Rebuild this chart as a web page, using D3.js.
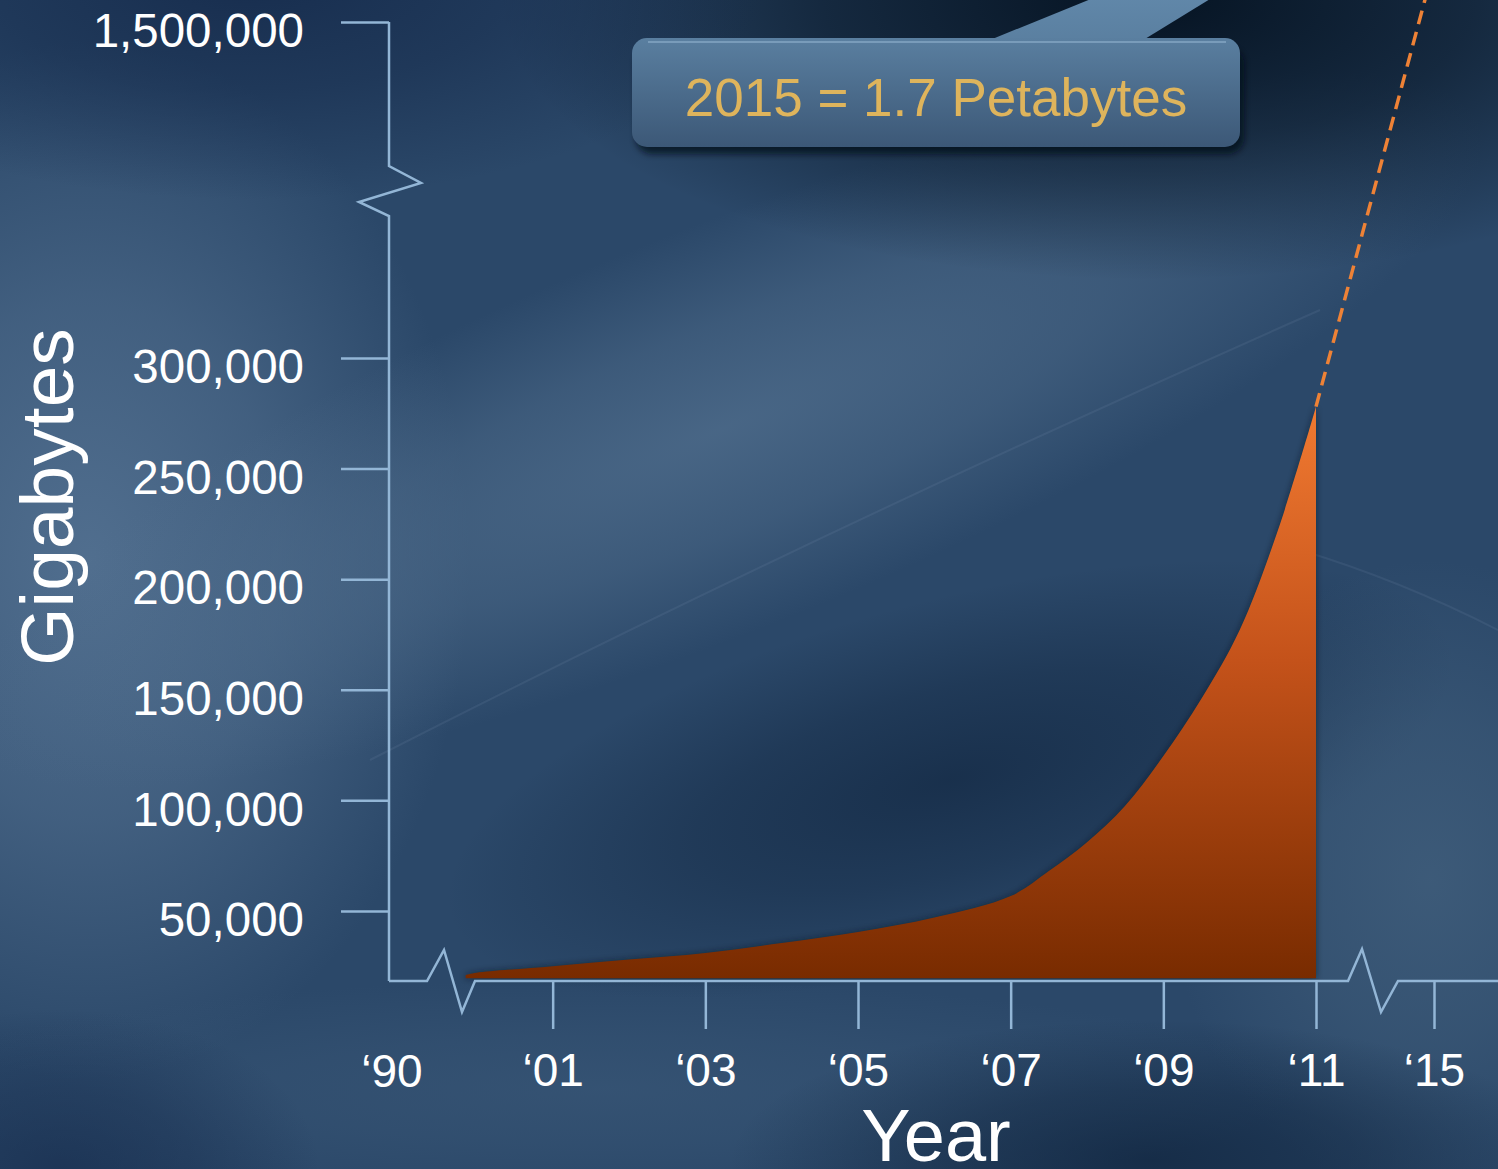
<!DOCTYPE html>
<html>
<head>
<meta charset="utf-8">
<script src="https://cdn.jsdelivr.net/npm/d3@7"></script>
<style>
  html, body { margin: 0; padding: 0; background: #1f3a5a; overflow: hidden; }
  text { font-family: "Liberation Sans", Arial, sans-serif; }
</style>
</head>
<body>
<div id="chart"></div>
<script>
// Data
const years = [1999.86, 2000, 2001, 2002, 2003, 2004, 2005, 2006, 2007, 2007.5, 2008, 2008.5, 2009, 2009.5, 2010, 2010.5, 2011];
const gigabytes = [21000, 22000, 25000, 28000, 31000, 35500, 40500, 47000, 56700, 68000, 81000, 97500, 120000, 146000, 177000, 222000, 278000];

// Projection to 2015 (dashed)
const projYears = [2011, 2015];
const projGigabytes = [278000, 1700000];

const xTickYears = [2001, 2003, 2005, 2007, 2009, 2011, 2015];
const xTickLabels = ["‘01", "‘03", "‘05", "‘07", "‘09", "‘11", "‘15"];
const xStartYear = 1990, xStartLabel = "‘90";
const yTicks = [50000, 100000, 150000, 200000, 250000, 300000, 1500000];
const yFloor = 18300;      // value where the x axis sits
const areaFloor = 19500;   // bottom of the orange area
const calloutText = "2015 = 1.7 Petabytes";

const width = 1498, height = 1169;

const svg = d3.select("#chart").append("svg")
    .attr("width", width)
    .attr("height", height);

const defs = svg.append("defs");

defs.append("filter").attr("id", "blur3")
    .attr("x", "-20%").attr("y", "-20%").attr("width", "140%").attr("height", "140%")
    .append("feGaussianBlur").attr("stdDeviation", 3);

// soft blobs for the backdrop
function blob(id, color, op) {
    const g = defs.append("radialGradient").attr("id", id);
    g.append("stop").attr("offset", 0).attr("stop-color", color).attr("stop-opacity", op);
    g.append("stop").attr("offset", 0.5).attr("stop-color", color).attr("stop-opacity", op * 0.6);
    g.append("stop").attr("offset", 1).attr("stop-color", color).attr("stop-opacity", 0);
    return `url(#${id})`;
}

const areaGrad = defs.append("linearGradient").attr("id", "areaGrad")
    .attr("gradientUnits", "userSpaceOnUse")
    .attr("x1", 0).attr("y1", 400).attr("x2", 0).attr("y2", 980);
areaGrad.append("stop").attr("offset", 0).attr("stop-color", "#f27b32");
areaGrad.append("stop").attr("offset", 0.45).attr("stop-color", "#c4521a");
areaGrad.append("stop").attr("offset", 1).attr("stop-color", "#782b00");

const boxGrad = defs.append("linearGradient").attr("id", "boxGrad")
    .attr("x1", 0).attr("y1", 0).attr("x2", 0).attr("y2", 1);
boxGrad.append("stop").attr("offset", 0).attr("stop-color", "#5a7fa0");
boxGrad.append("stop").attr("offset", 1).attr("stop-color", "#3c5877");

const ptrGrad = defs.append("linearGradient").attr("id", "ptrGrad")
    .attr("x1", 0).attr("y1", 1).attr("x2", 0).attr("y2", 0);
ptrGrad.append("stop").attr("offset", 0).attr("stop-color", "#5a7fa0");
ptrGrad.append("stop").attr("offset", 1).attr("stop-color", "#6289ab");

// Background
const bg = svg.append("g");
bg.append("rect").attr("width", width).attr("height", height).attr("fill", "#2b4869");
bg.append("ellipse").attr("cx", 90).attr("cy", 560).attr("rx", 380).attr("ry", 520)
    .attr("fill", blob("bLeft", "#5a7898", 0.8));
bg.append("ellipse").attr("cx", 720).attr("cy", 430).attr("rx", 820).attr("ry", 200)
    .attr("transform", "rotate(-22 720 430)")
    .attr("fill", blob("bBand", "#52708f", 0.75));
bg.append("ellipse").attr("cx", 1150).attr("cy", 0).attr("rx", 650).attr("ry", 280)
    .attr("fill", blob("bTopR", "#04111f", 0.95));
bg.append("ellipse").attr("cx", 250).attr("cy", -20).attr("rx", 520).attr("ry", 220)
    .attr("fill", blob("bTopL", "#14294a", 0.85));
bg.append("ellipse").attr("cx", 950).attr("cy", 780).attr("rx", 520).attr("ry", 180)
    .attr("transform", "rotate(-15 950 780)")
    .attr("fill", blob("bMid", "#112640", 0.7));
bg.append("ellipse").attr("cx", 1430).attr("cy", 880).attr("rx", 260).attr("ry", 320)
    .attr("fill", blob("bRight", "#44627f", 0.7));
bg.append("ellipse").attr("cx", 600).attr("cy", 1090).attr("rx", 700).attr("ry", 110)
    .attr("fill", blob("bBot", "#3b5979", 0.6));
bg.append("ellipse").attr("cx", 1150).attr("cy", 1160).attr("rx", 420).attr("ry", 140)
    .attr("fill", blob("bBotR", "#0d213a", 0.7));
bg.append("ellipse").attr("cx", 60).attr("cy", 1169).attr("rx", 260).attr("ry", 160)
    .attr("fill", blob("bBotL", "#14294a", 0.6));
// faint streaks
bg.append("path").attr("d", "M370,760 Q800,540 1320,310")
    .attr("fill", "none").attr("stroke", "#9ab4ce").attr("stroke-width", 2).attr("opacity", 0.1);
bg.append("path").attr("d", "M1300,550 Q1400,580 1498,630")
    .attr("fill", "none").attr("stroke", "#9ab4ce").attr("stroke-width", 2).attr("opacity", 0.1);

// Scales (broken axes)
const xScale = d3.scaleLinear()
    .domain([1990, 1999, 2011, 2015])
    .range([392, 400, 1316, 1434]);

const yScale = d3.scaleLinear()
    .domain([yFloor, 300000, 1500000])
    .range([981, 358, 22]);

const axisX = 389, axisY = yScale(yFloor);
const axisColor = "#93b6d6";

// Area
const data = years.map((y, i) => ({ year: y, gb: gigabytes[i] }));
const area = d3.area()
    .x(d => xScale(d.year))
    .y0(yScale(areaFloor))
    .y1(d => yScale(d.gb))
    .curve(d3.curveCatmullRom.alpha(0.5));

svg.append("path")
    .datum(data)
    .attr("d", area)
    .attr("fill", "#0c1520")
    .attr("opacity", 0.6)
    .attr("filter", "url(#blur3)");
svg.append("path")
    .datum(data)
    .attr("d", area)
    .attr("fill", "url(#areaGrad)");

// Dashed projection
const proj = projYears.map((y, i) => ({ year: y, gb: projGigabytes[i] }));
svg.append("path")
    .datum(proj)
    .attr("d", d3.line().x(d => xScale(d.year)).y(d => yScale(d.gb)))
    .attr("fill", "none")
    .attr("stroke", "#ee8236")
    .attr("stroke-width", 3.5)
    .attr("stroke-dasharray", "14,8");

// Y axis
const yAxis = svg.append("g")
    .attr("transform", `translate(${axisX},0)`)
    .call(d3.axisLeft(yScale).tickValues(yTicks).tickFormat(d3.format(",")).tickSize(48).tickPadding(37));
yAxis.select(".domain").remove();
yAxis.selectAll(".tick line").attr("stroke", axisColor).attr("stroke-width", 2.5);
yAxis.selectAll(".tick text")
    .attr("fill", "#ffffff")
    .attr("font-size", 47.5)
    .attr("font-family", "Liberation Sans, Arial, sans-serif")
    .attr("dy", "0.52em");

// y axis line with break
const yb = 166;
svg.append("path")
    .attr("d", `M${axisX},${yScale(1500000)} L${axisX},${yb} L${axisX + 32},${yb + 17} L${axisX - 30},${yb + 36} L${axisX},${yb + 50} L${axisX},${axisY}`)
    .attr("fill", "none").attr("stroke", axisColor).attr("stroke-width", 2.5).attr("stroke-linejoin", "miter");

// X axis
const xAxis = svg.append("g")
    .attr("transform", `translate(0,${axisY})`)
    .call(d3.axisBottom(xScale).tickValues(xTickYears)
        .tickFormat((d, i) => xTickLabels[i]).tickSize(48).tickPadding(24));
xAxis.select(".domain").remove();
xAxis.selectAll(".tick line").attr("stroke", axisColor).attr("stroke-width", 2.5);
xAxis.selectAll(".tick text")
    .attr("fill", "#ffffff")
    .attr("font-size", 46)
    .attr("font-family", "Liberation Sans, Arial, sans-serif");

svg.append("text")
    .attr("x", xScale(xStartYear))
    .attr("y", axisY + 106)
    .attr("text-anchor", "middle")
    .attr("fill", "#ffffff")
    .attr("font-size", 46)
    .text(xStartLabel);

// x axis line with two breaks
const b1 = 427, b2 = 1348;
svg.append("path")
    .attr("d", `M${axisX},${axisY} L${b1},${axisY} L${b1 + 17},${axisY - 31} L${b1 + 35},${axisY + 31} L${b1 + 48},${axisY}` +
        ` L${b2},${axisY} L${b2 + 14},${axisY - 32} L${b2 + 33},${axisY + 31} L${b2 + 50},${axisY} L${width},${axisY}`)
    .attr("fill", "none").attr("stroke", axisColor).attr("stroke-width", 2.5);

// Axis titles
svg.append("text")
    .attr("transform", "translate(73,497) rotate(-90)")
    .attr("text-anchor", "middle")
    .attr("fill", "#ffffff")
    .attr("font-size", 75)
    .text("Gigabytes");

svg.append("text")
    .attr("x", 936)
    .attr("y", 1161)
    .attr("text-anchor", "middle")
    .attr("fill", "#ffffff")
    .attr("font-size", 74)
    .text("Year");

// Callout
const callout = svg.append("g");
callout.append("rect")
    .attr("x", 636).attr("y", 48).attr("width", 608).attr("height", 106).attr("rx", 16)
    .attr("fill", "#050d18").attr("opacity", 0.7).attr("filter", "url(#blur3)");
callout.append("path")
    .attr("d", "M985,42 L1118,-12 L1228,-12 L1140,42 Z")
    .attr("fill", "url(#ptrGrad)");
callout.append("rect")
    .attr("x", 632).attr("y", 38).attr("width", 608).attr("height", 109).attr("rx", 15)
    .attr("fill", "url(#boxGrad)");
callout.append("line")
    .attr("x1", 648).attr("x2", 1226).attr("y1", 42).attr("y2", 42)
    .attr("stroke", "#8fb0cd").attr("stroke-width", 2).attr("opacity", 0.6);
callout.append("text")
    .attr("x", 936)
    .attr("y", 116)
    .attr("text-anchor", "middle")
    .attr("fill", "#deb45c")
    .attr("font-size", 53)
    .text(calloutText);
</script>
</body>
</html>
